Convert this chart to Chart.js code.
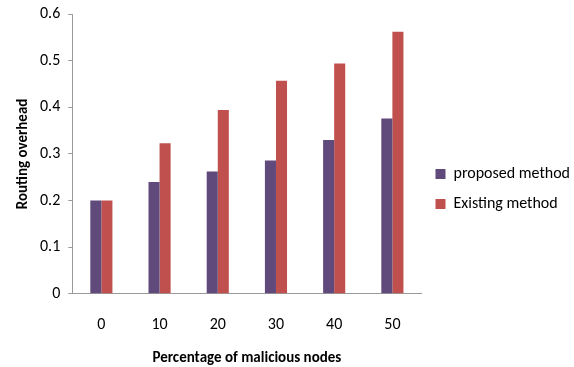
<!DOCTYPE html>
<html>
<head>
<meta charset="utf-8">
<script src="https://cdn.jsdelivr.net/npm/chart.js@4"></script>
<style>
  html, body { margin: 0; padding: 0; background: #fff; }
  #wrap { width: 574px; height: 367px; }
</style>
</head>
<body>
<div id="wrap"><canvas id="chartBar" width="574" height="367"></canvas></div>
<script>
// percentage of malicious nodes
var categorias = ['0', '10', '20', '30', '40', '50']
var proposto = [0.20, 0.24, 0.262, 0.286, 0.33, 0.376]
var existente = [0.20, 0.323, 0.394, 0.457, 0.494, 0.562]
var ticksY = [0, 0.1, 0.2, 0.3, 0.4, 0.5, 0.6]

var fonte = "Carlito, Calibri, Lato, sans-serif"

const ctx = document.getElementById('chartBar');

var dadosBarra = {
    labels: categorias,
    datasets: [{
        label: 'proposed method',
        backgroundColor: '#604A7B',
        data: proposto
    }, {
        label: 'Existing method',
        backgroundColor: '#C0504D',
        data: existente
    }]
};

var myBarChart = new Chart(ctx, {
    type: 'bar',
    data: dadosBarra,
    options: {
        responsive: false,
        animation: false,
        layout: { padding: { left: 14, top: 0, right: -6, bottom: 0 } },
        datasets: {
            bar: { categoryPercentage: 0.38, barPercentage: 1.0 }
        },
        scales: {
            x: {
                grid: { display: false },
                border: { display: true, color: '#9a9a9a', width: 1 },
                ticks: { color: '#000', padding: 14, font: { family: fonte, size: 16 } },
                title: {
                    display: true,
                    text: 'Percentage of malicious nodes',
                    color: '#000',
                    padding: { top: 0, bottom: 0 },
                    font: { family: fonte, size: 15, weight: 'bold' }
                }
            },
            y: {
                min: 0,
                max: 0.6,
                afterBuildTicks: function (eixo) {
                    eixo.ticks = ticksY.map(function (v) { return { value: v } })
                },
                grid: { drawOnChartArea: false, tickLength: 4, color: '#9a9a9a' },
                border: { display: true, color: '#9a9a9a', width: 1 },
                ticks: { color: '#000', padding: 8, font: { family: fonte, size: 16, lineHeight: 0.75 } },
                title: {
                    display: true,
                    text: 'Routing overhead',
                    color: '#000',
                    padding: { top: 0, bottom: 0 },
                    font: { family: fonte, size: 15, weight: 'bold' }
                }
            }
        },
        plugins: {
            legend: {
                position: 'right',
                maxWidth: 220,
                // empty title only pushes the two items a bit lower
                title: { display: true, text: ' ', padding: 0, font: { size: 11, lineHeight: 1.0 } },
                labels: {
                    color: '#000',
                    boxWidth: 10,
                    boxHeight: 10,
                    padding: 14,
                    font: { family: fonte, size: 16, lineHeight: 1.0 }
                }
            },
            tooltip: { enabled: false }
        }
    }
});
</script>
</body>
</html>
